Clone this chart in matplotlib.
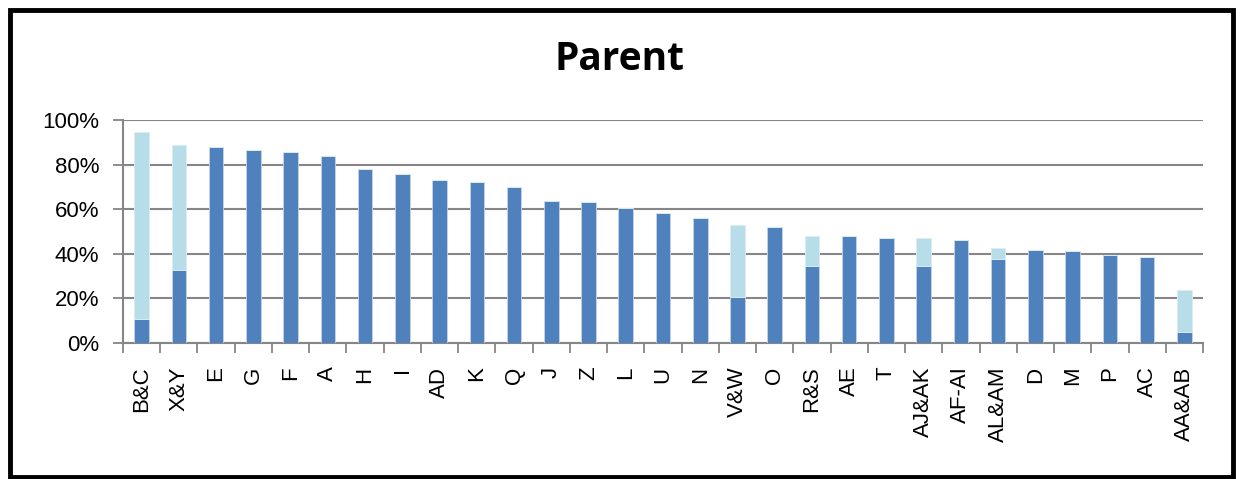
import matplotlib.pyplot as plt
from matplotlib.patches import Rectangle
from matplotlib.ticker import FixedLocator, PercentFormatter

categories = ['B&C', 'X&Y', 'E', 'G', 'F', 'A', 'H', 'I', 'AD', 'K', 'Q', 'J', 'Z', 'L',
              'U', 'N', 'V&W', 'O', 'R&S', 'AE', 'T', 'AJ&AK', 'AF-AI', 'AL&AM', 'D', 'M',
              'P', 'AC', 'AA&AB']
# lower (dark) part of each bar
base = [0.109, 0.328, 0.878, 0.867, 0.855, 0.839, 0.781, 0.760, 0.731, 0.722, 0.699,
        0.636, 0.634, 0.607, 0.582, 0.560, 0.207, 0.519, 0.346, 0.481, 0.473, 0.346,
        0.461, 0.378, 0.418, 0.412, 0.394, 0.385, 0.048]
# full height of the bar (dark + light)
total = [0.948, 0.888, 0.878, 0.867, 0.855, 0.839, 0.781, 0.760, 0.731, 0.722, 0.699,
         0.636, 0.634, 0.607, 0.582, 0.560, 0.528, 0.519, 0.479, 0.481, 0.473, 0.469,
         0.461, 0.428, 0.418, 0.412, 0.394, 0.385, 0.239]
extra = [t - b for t, b in zip(total, base)]

fig = plt.figure(figsize=(12.49, 4.79), dpi=100)
ax = fig.add_axes([123 / 1249, 1 - 343 / 479, (1203 - 123) / 1249, (343 - 120) / 479])

x = range(len(categories))
ax.bar(x, base, width=0.39, color='#4F81BD', edgecolor='#C6D5EA', linewidth=0.6, zorder=3)
ax.bar(x, extra, bottom=base, width=0.39, color='#B7DDE8', edgecolor='#DCEEF4',
       linewidth=0.6, zorder=3)

ax.set_xlim(-0.5, len(categories) - 0.5)
ax.set_ylim(0, 1)
ax.set_yticks([0, 0.2, 0.4, 0.6, 0.8, 1.0])
ax.yaxis.set_major_formatter(PercentFormatter(1.0, decimals=0))
ax.yaxis.grid(True, color='#868686', linewidth=1.5, zorder=0)

ax.set_xticks(list(x))
ax.set_xticklabels(categories, rotation=90, fontsize=16, family='Liberation Sans')
ax.tick_params(axis='x', which='major', length=0, pad=17)
ax.xaxis.set_minor_locator(FixedLocator([i - 0.5 for i in range(len(categories) + 1)]))
ax.tick_params(axis='x', which='minor', length=7, width=1.3, color='#868686')
ax.tick_params(axis='y', length=7, width=1.3, color='#868686', labelsize=16, pad=10)
for lab in ax.get_yticklabels():
    lab.set_family('Liberation Sans')

for side in ['top', 'right']:
    ax.spines[side].set_visible(False)
for side in ['left', 'bottom']:
    ax.spines[side].set_color('#868686')
    ax.spines[side].set_linewidth(1.5)

fig.text(620 / 1249, 1 - 59 / 479, 'Parent', ha='center', va='center',
         fontsize=28, fontweight='bold', family='Open Sans')

# black frame around the chart
fig.patches.append(Rectangle((10 / 1249, 2 / 479), 1223 / 1249, 467 / 479,
                             transform=fig.transFigure, fill=False,
                             edgecolor='black', linewidth=3.5))

fig.savefig('out.png', dpi=100)
